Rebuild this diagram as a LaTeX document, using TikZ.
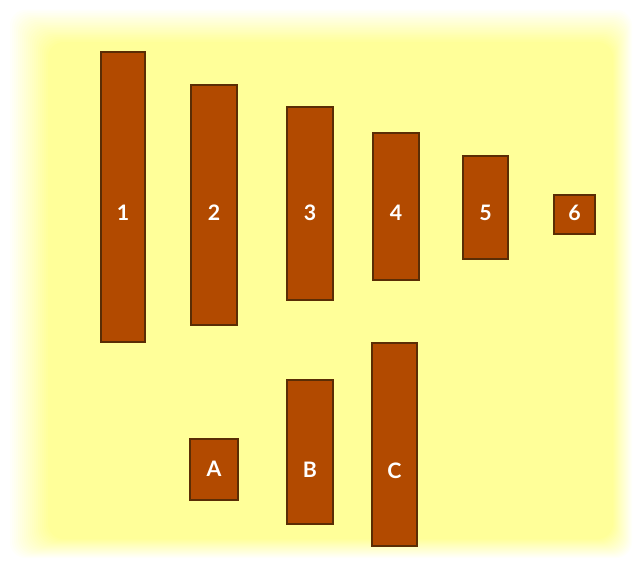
\documentclass[tikz,border=0pt]{standalone}
\usepackage{fontspec}
\setsansfont{Lato}
\usepackage{xcolor}
\usepackage{tikz}
\usetikzlibrary{positioning}
\definecolor{paleyellow}{RGB}{255,255,153}
\definecolor{rodbrown}{RGB}{178,74,0}
\definecolor{rodedge}{RGB}{90,45,5}
\tikzset{
Rod/.style = {
	draw=rodedge, fill=rodbrown, line width=0.8pt,
	inner sep=0pt
},
RodLabel/.style = {
	text=white, inner sep=0pt,
	font=\sffamily\bfseries\fontsize{16}{18}\selectfont
}
}

\begin{document}
\begin{tikzpicture}[x=0.75pt, y=-0.75pt]
	% glowing background
	\useasboundingbox (0,0) rectangle (639,565);
	\fill[white] (0,0) rectangle (639,565);
	\foreach \i in {0,...,20}
		\fill[paleyellow!\the\numexpr\i*5\relax!white, rounded corners=12pt]
			(8+2*\i,8+1.7*\i) rectangle (633-1*\i,559-1*\i);
	
	% top row
	\node[Rod, minimum width=44*0.75pt, minimum height=290*0.75pt] (r1) at (123,197) {};
	\node[Rod, minimum width=46*0.75pt, minimum height=240*0.75pt] (r2) at (214,205) {};
	\node[Rod, minimum width=46*0.75pt, minimum height=193*0.75pt] (r3) at (310,203.5) {};
	\node[Rod, minimum width=46*0.75pt, minimum height=147*0.75pt] (r4) at (396,206.5) {};
	\node[Rod, minimum width=45*0.75pt, minimum height=103*0.75pt] (r5) at (485.5,207.5) {};
	\node[Rod, minimum width=41*0.75pt, minimum height=39*0.75pt] (r6) at (574.5,214.5) {};
	\node[RodLabel] (l1) at (123,213) {1};
	\node[RodLabel] (l2) at (214,213) {2};
	\node[RodLabel] (l3) at (310,213) {3};
	\node[RodLabel] (l4) at (396,213) {4};
	\node[RodLabel] (l5) at (485.5,213) {5};
	\node[RodLabel] (l6) at (574.5,213) {6};
	
	% bottom row
	\node[Rod, minimum width=48*0.75pt, minimum height=61*0.75pt] (rA) at (214,469.5) {};
	\node[Rod, minimum width=46*0.75pt, minimum height=144*0.75pt] (rB) at (310,452) {};
	\node[Rod, minimum width=45*0.75pt, minimum height=203*0.75pt] (rC) at (394.5,444.5) {};
	\node[RodLabel] (lA) at (214,468.5) {A};
	\node[RodLabel] (lB) at (310,470) {B};
	\node[RodLabel] (lC) at (394.5,471) {C};
\end{tikzpicture}
\end{document}
